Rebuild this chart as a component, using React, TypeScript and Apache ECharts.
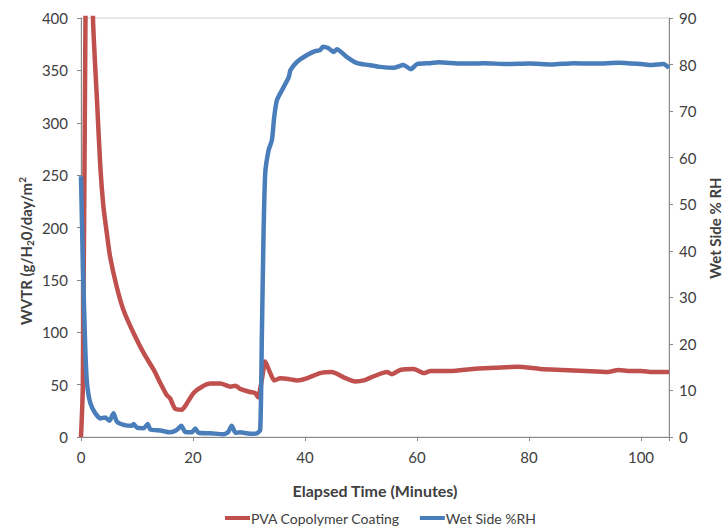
import React, { useEffect, useRef } from "react";
import * as echarts from "echarts";

const pvaTime = [0, 0.35, 0.8, 1.4, 2.14, 2.85, 3.45, 4.0, 4.6, 5.2, 6.4, 7.6, 9.4, 11.2, 13.0, 14.2, 15.3, 15.9, 16.8, 18.0, 18.9, 20.1, 21.6, 23.1, 24.9, 26.7, 27.6, 28.4, 30.2, 31.1, 31.6, 32.3, 32.9, 33.8, 34.5, 35.6, 37.4, 38.6, 40.3, 42.7, 44.8, 46.9, 49.0, 50.5, 52.3, 54.6, 55.5, 57.0, 59.4, 61.2, 62.4, 64.2, 66, 70, 74, 78, 82, 86, 90, 94, 96, 98, 100, 102, 105];
const pvaValue = [0, 51, 400, 700, 400, 322, 258, 220, 195, 172, 143, 121, 99, 80, 64, 51, 40, 37, 27, 26, 32, 42, 48, 51, 51, 48, 49, 46, 43, 42, 38, 55, 72, 61, 54, 56, 55, 54, 56, 61, 62, 57, 53, 54, 58, 62, 60, 64, 65, 61, 63, 63, 63, 65, 66, 67, 65, 64, 63, 62, 64, 63, 63, 62, 62];

const rhTime = [0, 0.35, 0.77, 1.07, 1.66, 2.55, 3.45, 4.3, 5.1, 5.8, 6.4, 7.6, 9.1, 9.4, 10.0, 11.2, 11.9, 12.4, 14.2, 15.9, 17.1, 17.9, 18.6, 19.8, 20.4, 21.0, 23.1, 25.5, 26.3, 26.9, 27.6, 28.4, 30.2, 31.4, 32.0, 32.3, 32.6, 32.9, 33.5, 34.1, 34.5, 35.0, 36.2, 37.1, 37.4, 38.6, 40.3, 41.8, 42.7, 43.2, 44.2, 45.1, 45.7, 47.5, 49.3, 51.4, 53.4, 55.8, 57.6, 58.9, 60.0, 62.4, 63.9, 68, 72, 76, 80, 84, 88, 92, 96, 100, 102, 104, 105];
const rhValue = [56, 36.5, 18.7, 11.6, 7.3, 5.1, 4.0, 4.2, 3.5, 5.1, 3.3, 2.6, 2.4, 2.8, 2.0, 1.9, 2.8, 1.6, 1.4, 1.0, 1.5, 2.4, 1.1, 1.0, 1.8, 0.9, 0.8, 0.6, 1.1, 2.4, 0.9, 1.0, 0.7, 0.8, 1.5, 22, 43.8, 56.7, 61.6, 63.8, 68.7, 72.4, 75.2, 77.3, 78.8, 80.6, 82.0, 82.9, 83.1, 83.8, 83.5, 82.7, 83.3, 81.6, 80.3, 79.9, 79.5, 79.3, 79.9, 79.0, 80.1, 80.3, 80.5, 80.2, 80.3, 80.1, 80.2, 80.0, 80.3, 80.2, 80.4, 80.1, 79.9, 80.1, 79.3];

const xTicks = [0, 20, 40, 60, 80, 100];
const seriesNames = ["PVA Copolymer Coating", "Wet Side %RH"];

const FONT = "Lato, 'Open Sans', sans-serif";
const TXT = "#404040";

export default function App() {
  const ref = useRef<HTMLDivElement>(null);
  useEffect(() => {
    if (!ref.current) return;
    const chart = echarts.init(ref.current, undefined, { renderer: "svg" });
    chart.setOption({
      animation: false,
      textStyle: { fontFamily: FONT },
      grid: { left: 81, right: 57, top: 18, bottom: 90, show: true, borderColor: "#d0d0d0", borderWidth: 1, containLabel: false },
      legend: {
        top: 506,
        left: 220,
        itemWidth: 25,
        itemHeight: 4,
        itemGap: 20,
        icon: "rect",
        textStyle: { fontFamily: FONT, fontSize: 14, color: TXT, padding: [0, 0, 0, -4] },
        data: seriesNames,
      },
      graphic: [
        {
          type: "text",
          x: 26,
          y: 251,
          rotation: Math.PI / 2,
          style: {
            text: "{a|WVTR (g/H}{s|2}{a|0/day/m}{p|2}",
            align: "center",
            verticalAlign: "middle",
            rich: {
              a: { fontFamily: FONT, fontSize: 15, fontWeight: "bold", fill: TXT, lineHeight: 18 },
              s: { fontFamily: FONT, fontSize: 10, fontWeight: "bold", fill: TXT, verticalAlign: "bottom", lineHeight: 18 },
              p: { fontFamily: FONT, fontSize: 10, fontWeight: "bold", fill: TXT, verticalAlign: "top", lineHeight: 18 },
            },
          },
        },
        {
          type: "text",
          x: 715,
          y: 228,
          rotation: Math.PI / 2,
          style: {
            text: "Wet Side % RH",
            align: "center",
            verticalAlign: "middle",
            fontFamily: FONT,
            fontSize: 15,
            fontWeight: "bold",
            fill: TXT,
          },
        },
      ],
      xAxis: {
        type: "value",
        min: 0,
        max: 105,
        interval: 20,
        name: "Elapsed Time (Minutes)",
        nameLocation: "middle",
        nameGap: 45,
        nameTextStyle: { fontFamily: FONT, fontSize: 16, fontWeight: "bold", color: TXT },
        axisLine: { show: true, lineStyle: { color: "#888" } },
        axisTick: { show: true, inside: false, length: 4, lineStyle: { color: "#888" } },
        axisLabel: {
          fontSize: 15,
          color: TXT,
          margin: 12,
          formatter: (v: number) => (xTicks.includes(v) ? String(v) : ""),
        },
        splitLine: { show: false },
      },
      yAxis: [
        {
          type: "value",
          min: 0,
          max: 400,
          interval: 50,
          position: "left",
          axisLine: { show: true, lineStyle: { color: "#888" } },
          axisTick: { show: true, inside: false, length: 4, lineStyle: { color: "#888" } },
          axisLabel: { fontSize: 15, color: TXT, margin: 13 },
          splitLine: { show: false },
        },
        {
          type: "value",
          min: 0,
          max: 90,
          interval: 10,
          position: "right",
          axisLine: { show: true, lineStyle: { color: "#888" } },
          axisTick: { show: true, inside: false, length: 4, lineStyle: { color: "#888" } },
          axisLabel: { fontSize: 15, color: TXT, margin: 10 },
          splitLine: { show: false },
        },
      ],
      series: [
        {
          name: seriesNames[0],
          type: "line",
          yAxisIndex: 0,
          data: pvaTime.map((t, i) => [t, pvaValue[i]]),
          symbol: "none",
          smooth: 0.2,
          clip: true,
          color: "#C0504D",
          lineStyle: { width: 4.5, color: "#C0504D" },
        },
        {
          name: seriesNames[1],
          type: "line",
          yAxisIndex: 1,
          data: rhTime.map((t, i) => [t, rhValue[i]]),
          symbol: "none",
          smooth: 0.2,
          clip: true,
          color: "#4A7EBB",
          lineStyle: { width: 4.5, color: "#4A7EBB" },
        },
      ],
    });
    return () => chart.dispose();
  }, []);
  return <div ref={ref} style={{ position: "absolute", left: 0, top: 0, width: 726, height: 527 }} />;
}
